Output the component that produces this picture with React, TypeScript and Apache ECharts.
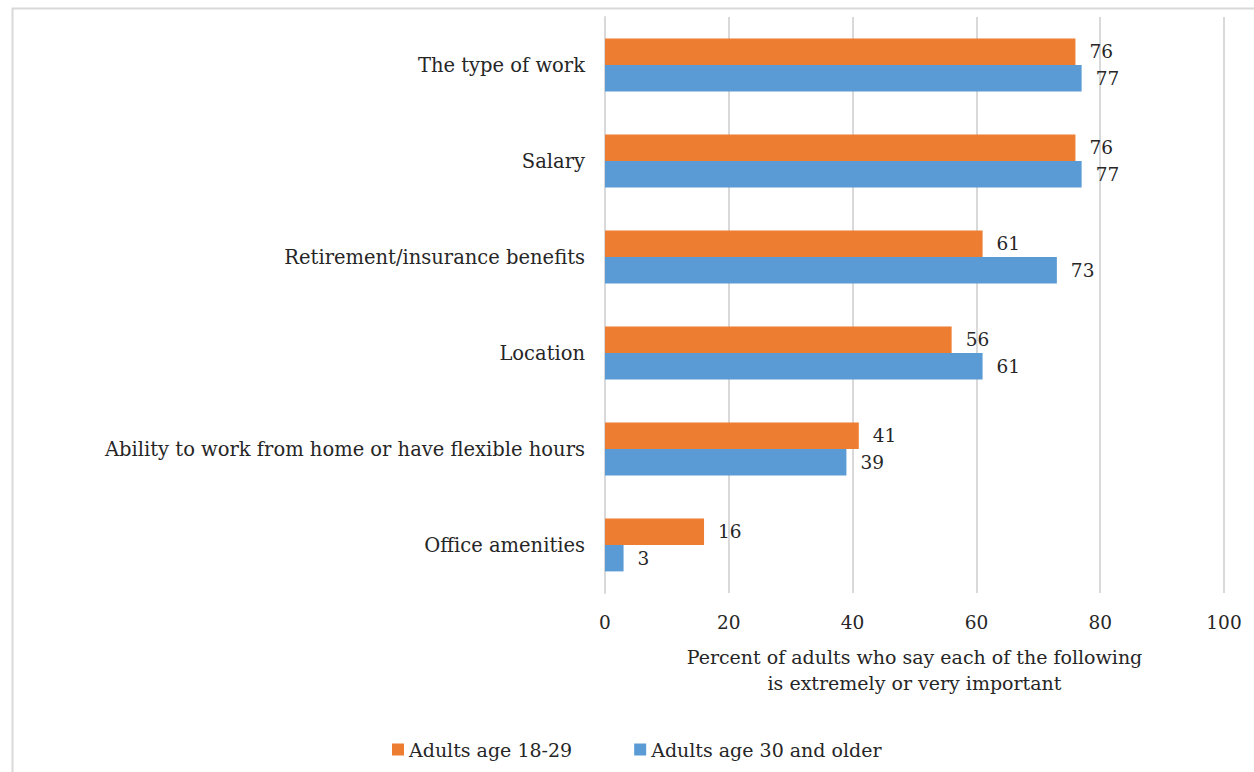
import React, { useEffect, useRef } from "react";
import * as echarts from "echarts";

const categories = [
  "The type of work",
  "Salary",
  "Retirement/insurance benefits",
  "Location",
  "Ability to work from home or have flexible hours",
  "Office amenities",
];
const seriesNames = ["Adults age 18-29", "Adults age 30 and older"];
const young = [76, 76, 61, 56, 41, 16];
const older = [77, 77, 73, 61, 39, 3];
const xTicks = { min: 0, max: 100, interval: 20 };
const axisTitle = "Percent of adults who say each of the following\nis extremely or very important";

const FONT = "DejaVu Serif";
const TEXT = "#262626";

export default function App() {
  const ref = useRef<HTMLDivElement>(null);
  useEffect(() => {
    document.body.style.margin = "0";
    const chart = echarts.init(ref.current!, null, { renderer: "svg" });
    chart.setOption({
      animation: false,
      backgroundColor: "#ffffff",
      textStyle: { fontFamily: FONT, color: TEXT },
      graphic: [
        {
          type: "rect",
          left: 10,
          top: 6,
          shape: { width: 1400, height: 900 },
          style: { fill: "none", stroke: "#d9d9d9", lineWidth: 2 },
          z: -1,
          silent: true,
        },
      ],
      grid: { left: 605, right: 30, top: 17, bottom: 179, containLabel: false },
      legend: {
        left: 387,
        bottom: 8,
        icon: "rect",
        itemWidth: 12,
        itemHeight: 12,
        itemGap: 62,
        textStyle: { fontFamily: FONT, fontSize: 19, color: TEXT },
        data: seriesNames,
      },
      xAxis: {
        type: "value",
        min: xTicks.min,
        max: xTicks.max,
        interval: xTicks.interval,
        axisLine: { show: false },
        axisTick: { show: false },
        splitLine: { show: true, lineStyle: { color: "#d9d9d9", width: 2 } },
        axisLabel: { fontFamily: FONT, fontSize: 18.5, color: TEXT, margin: 20 },
        name: axisTitle,
        nameLocation: "middle",
        nameGap: 51,
        nameTextStyle: { fontFamily: FONT, fontSize: 19, color: TEXT, lineHeight: 26, verticalAlign: "top" },
      },
      yAxis: {
        type: "category",
        inverse: true,
        data: categories,
        axisLine: { show: true, lineStyle: { color: "#d9d9d9", width: 2 } },
        axisTick: { show: false },
        axisLabel: { fontFamily: FONT, fontSize: 19.5, color: TEXT, margin: 20 },
      },
      series: [
        {
          name: seriesNames[0],
          type: "bar",
          data: young,
          itemStyle: { color: "#ED7D31" },
          barGap: "0%",
          barCategoryGap: "45%",
          label: { show: true, position: "right", distance: 14, fontFamily: FONT, fontSize: 18.5, color: TEXT },
        },
        {
          name: seriesNames[1],
          type: "bar",
          data: older,
          itemStyle: { color: "#5B9BD5" },
          barGap: "0%",
          barCategoryGap: "45%",
          label: { show: true, position: "right", distance: 14, fontFamily: FONT, fontSize: 18.5, color: TEXT },
        },
      ],
    });
    return () => chart.dispose();
  }, []);
  return <div ref={ref} style={{ width: 1254, height: 772 }} />;
}
